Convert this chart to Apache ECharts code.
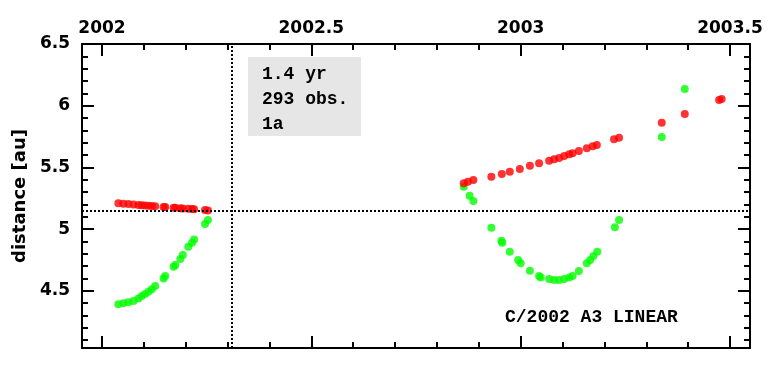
<!DOCTYPE html>
<html>
<head>
<meta charset="utf-8">
<script src="https://cdn.jsdelivr.net/npm/echarts@6.0.0/dist/echarts.min.js"></script>
<style>
html,body{margin:0;padding:0;background:#fff;}
#chart{width:779px;height:373px;}
</style>
</head>
<body>
<div id="chart"></div>
<script>
// ---- data ----
const greenT = [2002.039, 2002.051, 2002.063, 2002.075, 2002.087, 2002.095, 2002.103, 2002.111, 2002.119, 2002.127,
  2002.147, 2002.151, 2002.171, 2002.175, 2002.187, 2002.193, 2002.206, 2002.215, 2002.220, 2002.246, 2002.253,
  2002.864, 2002.878, 2002.887, 2002.930, 2002.954, 2002.956, 2002.974, 2002.994, 2003.000, 2003.022, 2003.044,
  2003.048, 2003.068, 2003.080, 2003.092, 2003.104, 2003.116, 2003.124, 2003.139, 2003.158, 2003.166, 2003.174,
  2003.183, 2003.225, 2003.235, 2003.337, 2003.392];
const greenD = [4.391, 4.399, 4.407, 4.417, 4.439, 4.458, 4.474, 4.493, 4.512, 4.539,
  4.601, 4.620, 4.695, 4.709, 4.758, 4.790, 4.857, 4.890, 4.917, 5.041, 5.074,
  5.344, 5.271, 5.228, 5.011, 4.905, 4.889, 4.817, 4.750, 4.723, 4.663, 4.620,
  4.609, 4.596, 4.588, 4.588, 4.596, 4.609, 4.620, 4.660, 4.723, 4.750, 4.783,
  4.817, 5.015, 5.074, 5.746, 6.135];
const redT = [2002.039, 2002.051, 2002.063, 2002.075, 2002.087, 2002.095, 2002.103, 2002.111, 2002.119, 2002.127,
  2002.147, 2002.151, 2002.171, 2002.175, 2002.187, 2002.193, 2002.206, 2002.215, 2002.220, 2002.246, 2002.253,
  2002.864, 2002.874, 2002.887, 2002.930, 2002.955, 2002.974, 2002.998, 2003.022, 2003.044, 2003.068, 2003.080,
  2003.092, 2003.104, 2003.116, 2003.124, 2003.139, 2003.158, 2003.172, 2003.182, 2003.223, 2003.235, 2003.337,
  2003.392, 2003.474, 2003.480];
const redD = [5.210, 5.206, 5.203, 5.200, 5.196, 5.194, 5.192, 5.190, 5.188, 5.186,
  5.180, 5.179, 5.174, 5.173, 5.170, 5.168, 5.165, 5.163, 5.162, 5.155, 5.152,
  5.371, 5.384, 5.398, 5.425, 5.447, 5.465, 5.487, 5.514, 5.533, 5.554, 5.566,
  5.576, 5.592, 5.606, 5.614, 5.633, 5.655, 5.671, 5.682, 5.728, 5.741, 5.862,
  5.933, 6.046, 6.054];
const refTime = 2002.314;
const refDist = 5.147;
const xMajor = [2002, 2002.5, 2003, 2003.5];
const xMinor = [2002.1, 2002.2, 2002.3, 2002.4, 2002.6, 2002.7, 2002.8, 2002.9, 2003.1, 2003.2, 2003.3, 2003.4];
const yMajor = [4.5, 5, 5.5, 6, 6.5];
const yMinor = [4.1, 4.2, 4.3, 4.4, 4.6, 4.7, 4.8, 4.9, 5.1, 5.2, 5.3, 5.4, 5.6, 5.7, 5.8, 5.9, 6.1, 6.2, 6.3, 6.4];
const infoLines = ['1.4 yr', '293 obs.', '1a'];
const objectName = 'C/2002 A3 LINEAR';
const yTitle = 'distance [au]';

// ---- chart ----
const X_MIN = 2001.9522, X_MAX = 2003.5478, Y_MIN = 4.037, Y_MAX = 6.5;
const labelFont = {color: '#000', fontFamily: 'DejaVu Sans', fontWeight: 'bold', fontSize: 17};
function xAx(pos, vals, len, labels, line) {
  return {
    type: 'value', position: pos, min: X_MIN, max: X_MAX,
    axisLine: {show: line, onZero: false, lineStyle: {color: '#000', width: 2}},
    axisTick: {show: true, inside: true, length: len, customValues: vals, lineStyle: {color: '#000', width: 2}},
    axisLabel: labels ? Object.assign({show: true, customValues: vals, margin: 7,
      formatter: v => String(Math.round(v * 10) / 10)}, labelFont) : {show: false},
    splitLine: {show: false}
  };
}
function yAx(pos, vals, len, labels, line, name) {
  const a = {
    type: 'value', position: pos, min: Y_MIN, max: Y_MAX,
    axisLine: {show: line, onZero: false, lineStyle: {color: '#000', width: 2}},
    axisTick: {show: true, inside: true, length: len, customValues: vals, lineStyle: {color: '#000', width: 2}},
    axisLabel: labels ? Object.assign({show: true, customValues: vals, margin: 12,
      formatter: v => String(Math.round(v * 10) / 10)}, labelFont) : {show: false},
    splitLine: {show: false}
  };
  if (name) {
    a.name = name; a.nameLocation = 'middle'; a.nameGap = 53; a.nameRotate = 90;
    a.nameMoveOverlap = false;
    a.nameTextStyle = {color: '#000', fontFamily: 'DejaVu Sans', fontWeight: 'bold', fontSize: 18};
  }
  return a;
}

const chart = echarts.init(document.getElementById('chart'), null, {renderer: 'canvas'});
chart.setOption({
  animation: false,
  backgroundColor: '#fff',
  grid: {left: 82, top: 44, width: 668, height: 304, containLabel: false, outerBoundsMode: 'none'},
  xAxis: [
    xAx('top', xMajor, 12, true, true),
    xAx('top', xMinor, 6, false, false),
    xAx('bottom', xMajor, 12, false, true),
    xAx('bottom', xMinor, 6, false, false)
  ],
  yAxis: [
    yAx('left', yMajor, 12, true, true, yTitle),
    yAx('left', yMinor, 6, false, false),
    yAx('right', yMajor, 12, false, true),
    yAx('right', yMinor, 6, false, false)
  ],
  graphic: [
    {type: 'rect', left: 248, top: 57, z: 0, shape: {width: 113, height: 79}, style: {fill: '#e6e6e6'}},
    ...infoLines.map((s, i) => ({
      type: 'text', x: 262, y: 74 + i * 25, z: 10,
      style: {text: s, fill: '#000', font: 'bold 18px "Liberation Mono"', verticalAlign: 'middle', align: 'left'}
    })),
    {type: 'text', x: 505, y: 317, z: 10,
      style: {text: objectName, fill: '#000', font: 'bold 18px "Liberation Mono"', verticalAlign: 'middle', align: 'left'}}
  ],
  series: [
    {
      type: 'scatter', xAxisIndex: 0, yAxisIndex: 0, symbol: 'circle', symbolSize: 8,
      itemStyle: {color: '#00ff00'}, z: 3,
      data: greenT.map((t, i) => [t, greenD[i]]),
      markLine: {
        silent: true, symbol: 'none', label: {show: false},
        lineStyle: {color: '#000', width: 2, type: [2, 2]},
        data: [{xAxis: refTime}, {yAxis: refDist}]
      }
    },
    {
      type: 'scatter', xAxisIndex: 0, yAxisIndex: 0, symbol: 'circle', symbolSize: 8,
      itemStyle: {color: '#ff0000'}, z: 4,
      data: redT.map((t, i) => [t, redD[i]])
    }
  ]
});
</script>
</body>
</html>
